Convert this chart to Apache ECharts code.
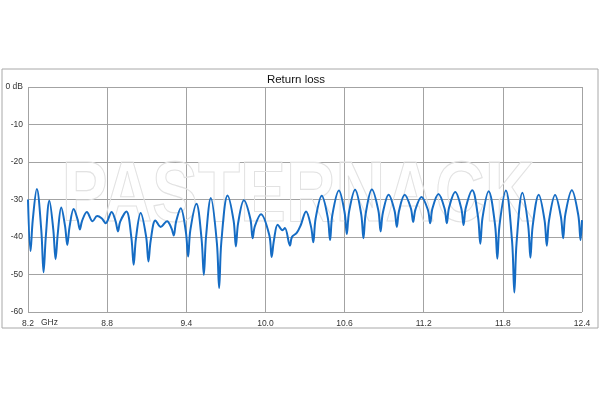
<!DOCTYPE html>
<html>
<head>
<meta charset="utf-8">
<script src="https://cdn.jsdelivr.net/npm/echarts@6/dist/echarts.min.js"></script>
<style>html,body{margin:0;padding:0;background:#fff;}#c{width:600px;height:400px;}</style>
</head>
<body>
<div id="c"></div>
<script>
// Frequency (GHz) and return loss (dB)
var freq = [
8.200,8.219,8.236,8.267,8.301,8.318,8.335,8.362,8.392,8.409,8.426,8.452,8.481,8.498,8.515,8.546,
8.576,8.593,8.610,8.646,8.690,8.724,8.758,8.789,8.834,8.865,8.882,8.899,8.946,8.984,9.001,9.018,
9.054,9.096,9.113,9.130,9.166,9.206,9.254,9.288,9.305,9.322,9.358,9.397,9.414,9.431,9.477,9.516,
9.533,9.550,9.586,9.632,9.649,9.666,9.713,9.759,9.776,9.793,9.837,9.886,9.903,9.920,9.966,10.030,
10.047,10.064,10.093,10.129,10.148,10.186,10.201,10.237,10.266,10.308,10.346,10.363,10.380,10.427,
10.473,10.490,10.507,10.557,10.600,10.617,10.634,10.680,10.726,10.743,10.760,10.807,10.856,10.873,
10.890,10.934,10.979,10.996,11.013,11.056,11.103,11.120,11.137,11.183,11.232,11.249,11.266,11.312,
11.358,11.375,11.392,11.439,11.485,11.502,11.519,11.568,11.612,11.629,11.646,11.692,11.741,11.758,
11.775,11.823,11.870,11.887,11.904,11.948,11.992,12.009,12.026,12.072,12.116,12.133,12.150,12.196,
12.240,12.257,12.274,12.323,12.372,12.389,12.400
];
var returnLoss = [
-30.0,-43.8,-35.5,-27.2,-38.3,-49.4,-39.9,-30.3,-38.1,-45.9,-39.0,-32.1,-37.1,-42.1,-37.3,-32.5,
-35.3,-38.0,-35.7,-33.3,-35.8,-34.4,-35.0,-36.3,-33.3,-35.9,-38.5,-35.9,-33.2,-40.3,-47.4,-40.5,
-33.6,-40.0,-46.5,-41.0,-35.6,-37.3,-35.8,-37.7,-39.6,-36.0,-32.3,-38.7,-45.2,-38.1,-31.1,-40.6,
-50.1,-39.8,-29.6,-41.6,-53.6,-41.2,-28.9,-35.7,-42.5,-36.3,-30.2,-35.2,-40.3,-37.1,-33.9,-39.6,
-45.3,-41.0,-36.7,-38.2,-37.6,-42.3,-40.0,-38.9,-37.0,-33.2,-37.3,-41.4,-35.2,-29.0,
-34.9,-40.8,-34.2,-27.6,-33.4,-39.2,-33.3,-27.4,-33.9,-40.3,-33.8,-27.3,-32.9,-38.5,
-33.6,-28.7,-33.0,-37.3,-33.0,-28.7,-32.4,-36.0,-32.7,-29.3,-32.8,-36.3,-32.4,-28.5,
-32.4,-36.3,-32.2,-28.0,-32.4,-36.8,-32.2,-27.5,-34.7,-41.8,-34.8,-27.8,-36.8,-45.8,
-36.7,-27.6,-41.2,-54.8,-41.5,-28.2,-36.9,-45.5,-37.1,-28.7,-35.5,-42.3,-35.6,-28.8,
-34.6,-40.3,-33.9,-27.5,-34.2,-40.8,-35.5
];
var xMin = 8.2, xMax = 12.4, xStep = 0.6;
var yMin = -60, yMax = 0, yStep = 10;
var titleText = 'Return loss';
var unitText = 'GHz';
var watermarkText = 'PASTERNACK';

var data = freq.map(function (f, i) { return [f, returnLoss[i]]; });
var gridColor = '#a3a3a3';
var labelStyle = { fontFamily: 'Liberation Sans', fontSize: 8.5, fontWeight: 'normal', color: '#333' };

var chart = echarts.init(document.getElementById('c'), null, { renderer: 'canvas' });
chart.setOption({
  animation: false,
  backgroundColor: '#ffffff',
  grid: { left: 28, right: 18, top: 87, bottom: 88, containLabel: false },
  xAxis: {
    type: 'value', min: xMin, max: xMax, interval: xStep,
    axisLine: { show: false }, axisTick: { show: false },
    splitLine: { show: true, lineStyle: { color: gridColor, width: 1 } },
    axisLabel: Object.assign({ margin: 7, formatter: function (v) { return v.toFixed(1); } }, labelStyle)
  },
  yAxis: {
    type: 'value', min: yMin, max: yMax, interval: yStep,
    axisLine: { show: false }, axisTick: { show: false },
    splitLine: { show: true, lineStyle: { color: gridColor, width: 1 } },
    axisLabel: Object.assign({ margin: 5, formatter: function (v) { return v === 0 ? '0 dB' : String(v); } }, labelStyle)
  },
  graphic: [
    { type: 'rect', z: 0, silent: true, shape: { x: 2, y: 69, width: 596, height: 259 },
      style: { fill: 'none', stroke: '#a8a8a8', lineWidth: 1 } },
    { type: 'text', z: 1, silent: true, x: 296, y: 80,
      style: { text: titleText, fontFamily: 'Liberation Sans', fontSize: 11.5, fill: '#111', textAlign: 'center', textVerticalAlign: 'middle' } },
    { type: 'text', z: 1, silent: true, x: 41, y: 323,
      style: { text: unitText, fontFamily: 'Liberation Sans', fontSize: 8.5, fill: '#333', textAlign: 'left', textVerticalAlign: 'middle' } },
    { type: 'text', z: 1, silent: true, x: 298, y: 197, scaleX: 0.8, originX: 0, originY: 0,
      style: { text: watermarkText, fontFamily: 'Liberation Sans', fontSize: 86, fontWeight: 'bold',
               fill: 'rgba(0,0,0,0)', stroke: '#e2e2e2', lineWidth: 1.2, textAlign: 'center', textVerticalAlign: 'middle' } }
  ],
  series: [{
    type: 'line', data: data, z: 5,
    showSymbol: false, smooth: 0.35,
    lineStyle: { color: '#156cc4', width: 2 },
    clip: true
  }]
});
</script>
</body>
</html>
